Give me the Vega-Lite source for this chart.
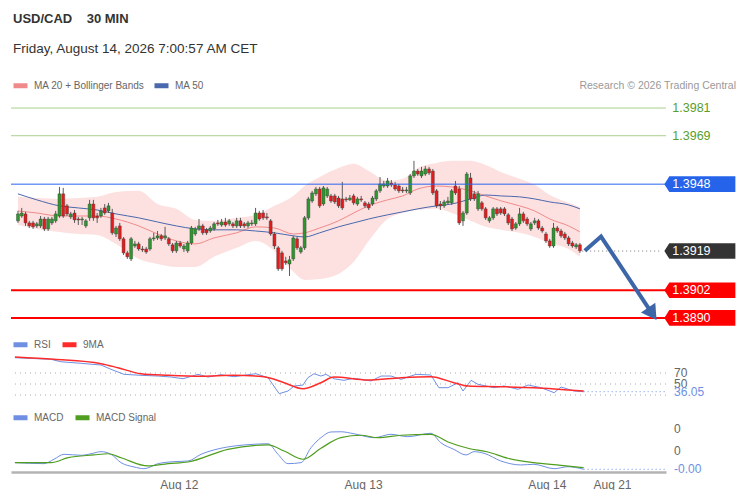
{
  "$schema": "https://vega.github.io/schema/vega-lite/v6.json",
  "background": "white",
  "padding": {"left": 10, "top": 12, "right": 0, "bottom": 0},
  "title": {
    "text": "USD/CAD\u00a0\u00a0\u00a0\u00a030 MIN",
    "subtitle": "Friday, August 14, 2026 7:00:57 AM CET",
    "anchor": "start",
    "dx": 3,
    "offset": 21,
    "font": "Liberation Sans",
    "fontSize": 13,
    "fontWeight": "bold",
    "color": "#333333",
    "subtitleFont": "Liberation Sans",
    "subtitleFontSize": 13.5,
    "subtitleColor": "#333333",
    "subtitlePadding": 16
  },
  "spacing": 0,
  "vconcat": [
    {
      "width": 655,
      "height": 259,
      "title": {
        "text": "Research © 2026 Trading Central",
        "anchor": "end",
        "frame": "group",
        "dx": 70,
        "offset": -15,
        "fontSize": 10.5,
        "fontWeight": "normal",
        "color": "#999999"
      },
      "layer": [
        {
          "data": {"values": [
            {"i":0,"ma20":1.39364,"ma50":1.39438,"bbU":1.39425,"bbL":1.39303},
            {"i":5,"ma20":1.39355,"ma50":1.39412,"bbU":1.39420,"bbL":1.39286},
            {"i":11,"ma20":1.39342,"ma50":1.39386,"bbU":1.39416,"bbL":1.39273},
            {"i":16,"ma20":1.39342,"ma50":1.39377,"bbU":1.39420,"bbL":1.39264},
            {"i":21,"ma20":1.39342,"ma50":1.39368,"bbU":1.39425,"bbL":1.39260},
            {"i":26,"ma20":1.39329,"ma50":1.39351,"bbU":1.39446,"bbL":1.39221},
            {"i":32,"ma20":1.39299,"ma50":1.39334,"bbU":1.39451,"bbL":1.39156},
            {"i":37,"ma20":1.39264,"ma50":1.39316,"bbU":1.39394,"bbL":1.39134},
            {"i":42,"ma20":1.39234,"ma50":1.39299,"bbU":1.39373,"bbL":1.39121},
            {"i":47,"ma20":1.39221,"ma50":1.39286,"bbU":1.39325,"bbL":1.39121},
            {"i":52,"ma20":1.39247,"ma50":1.39282,"bbU":1.39321,"bbL":1.39165},
            {"i":58,"ma20":1.39269,"ma50":1.39282,"bbU":1.39334,"bbL":1.39204},
            {"i":63,"ma20":1.39295,"ma50":1.39277,"bbU":1.39347,"bbL":1.39234},
            {"i":68,"ma20":1.39290,"ma50":1.39269,"bbU":1.39386,"bbL":1.39191},
            {"i":73,"ma20":1.39264,"ma50":1.39256,"bbU":1.39429,"bbL":1.39100},
            {"i":76,"ma20":1.39269,"ma50":1.39251,"bbU":1.39472,"bbL":1.39065},
            {"i":80,"ma20":1.39290,"ma50":1.39269,"bbU":1.39511,"bbL":1.39069},
            {"i":85,"ma20":1.39321,"ma50":1.39295,"bbU":1.39550,"bbL":1.39091},
            {"i":89,"ma20":1.39355,"ma50":1.39312,"bbU":1.39568,"bbL":1.39143},
            {"i":93,"ma20":1.39386,"ma50":1.39329,"bbU":1.39537,"bbL":1.39234},
            {"i":98,"ma20":1.39412,"ma50":1.39347,"bbU":1.39494,"bbL":1.39329},
            {"i":102,"ma20":1.39429,"ma50":1.39360,"bbU":1.39503,"bbL":1.39355},
            {"i":106,"ma20":1.39459,"ma50":1.39373,"bbU":1.39550,"bbL":1.39368},
            {"i":111,"ma20":1.39472,"ma50":1.39386,"bbU":1.39572,"bbL":1.39373},
            {"i":115,"ma20":1.39468,"ma50":1.39394,"bbU":1.39581,"bbL":1.39355},
            {"i":120,"ma20":1.39451,"ma50":1.39416,"bbU":1.39581,"bbL":1.39321},
            {"i":124,"ma20":1.39429,"ma50":1.39433,"bbU":1.39563,"bbL":1.39295},
            {"i":128,"ma20":1.39408,"ma50":1.39429,"bbU":1.39533,"bbL":1.39282},
            {"i":133,"ma20":1.39386,"ma50":1.39425,"bbU":1.39503,"bbL":1.39269},
            {"i":137,"ma20":1.39364,"ma50":1.39416,"bbU":1.39477,"bbL":1.39251},
            {"i":141,"ma20":1.39329,"ma50":1.39403,"bbU":1.39433,"bbL":1.39225},
            {"i":146,"ma20":1.39299,"ma50":1.39390,"bbU":1.39399,"bbL":1.39199},
            {"i":149,"ma20":1.39273,"ma50":1.39373,"bbU":1.39381,"bbL":1.39165}
          ]},
          "layer": [
            {
              "mark": {"type": "area", "color": "#fde1e1", "interpolate": "monotone"},
              "encoding": {
                "x": {"field": "i", "type": "quantitative", "scale": {"domain": [-0.52, 170.5], "nice": false, "zero": false}, "axis": null},
                "y": {"field": "bbU", "type": "quantitative", "scale": {"domain": [1.38826, 1.39949], "nice": false, "zero": false}, "axis": null},
                "y2": {"field": "bbL"}
              }
            },
            {
              "mark": {"type": "line", "strokeWidth": 1, "interpolate": "monotone"},
              "encoding": {
                "x": {"field": "i", "type": "quantitative"},
                "y": {"field": "ma20", "type": "quantitative"},
                "color": {
                  "datum": "MA 20 + Bollinger Bands",
                  "scale": {"domain": ["MA 20 + Bollinger Bands", "MA 50"], "range": ["#f08a8a", "#4a68ad"]},
                  "legend": {"title": null, "orient": "none", "legendX": 0, "legendY": 0, "direction": "horizontal", "columnPadding": -1}
                }
              }
            },
            {
              "mark": {"type": "line", "strokeWidth": 1, "interpolate": "monotone"},
              "encoding": {
                "x": {"field": "i", "type": "quantitative"},
                "y": {"field": "ma50", "type": "quantitative"},
                "color": {"datum": "MA 50"}
              }
            }
          ]
        },
        {
          "data": {"values": [
            {"i":0,"o":1.39321,"h":1.39364,"l":1.39312,"c":1.39351},
            {"i":1,"o":1.39342,"h":1.39377,"l":1.39334,"c":1.39355},
            {"i":2,"o":1.39351,"h":1.39360,"l":1.39299,"c":1.39312},
            {"i":3,"o":1.39312,"h":1.39321,"l":1.39290,"c":1.39299},
            {"i":4,"o":1.39312,"h":1.39321,"l":1.39286,"c":1.39295},
            {"i":5,"o":1.39299,"h":1.39316,"l":1.39290,"c":1.39308},
            {"i":6,"o":1.39299,"h":1.39342,"l":1.39290,"c":1.39329},
            {"i":7,"o":1.39329,"h":1.39338,"l":1.39277,"c":1.39286},
            {"i":8,"o":1.39286,"h":1.39338,"l":1.39277,"c":1.39329},
            {"i":9,"o":1.39312,"h":1.39338,"l":1.39303,"c":1.39329},
            {"i":10,"o":1.39321,"h":1.39364,"l":1.39312,"c":1.39351},
            {"i":11,"o":1.39342,"h":1.39468,"l":1.39334,"c":1.39438},
            {"i":12,"o":1.39438,"h":1.39464,"l":1.39334,"c":1.39342},
            {"i":13,"o":1.39386,"h":1.39394,"l":1.39342,"c":1.39351},
            {"i":14,"o":1.39338,"h":1.39360,"l":1.39329,"c":1.39351},
            {"i":15,"o":1.39355,"h":1.39368,"l":1.39312,"c":1.39325},
            {"i":16,"o":1.39329,"h":1.39338,"l":1.39303,"c":1.39325},
            {"i":17,"o":1.39325,"h":1.39338,"l":1.39303,"c":1.39329},
            {"i":18,"o":1.39299,"h":1.39329,"l":1.39290,"c":1.39321},
            {"i":19,"o":1.39334,"h":1.39412,"l":1.39321,"c":1.39394},
            {"i":20,"o":1.39394,"h":1.39412,"l":1.39321,"c":1.39334},
            {"i":21,"o":1.39342,"h":1.39355,"l":1.39312,"c":1.39334},
            {"i":22,"o":1.39342,"h":1.39377,"l":1.39334,"c":1.39364},
            {"i":23,"o":1.39377,"h":1.39394,"l":1.39347,"c":1.39355},
            {"i":24,"o":1.39364,"h":1.39399,"l":1.39355,"c":1.39386},
            {"i":25,"o":1.39355,"h":1.39373,"l":1.39260,"c":1.39269},
            {"i":26,"o":1.39264,"h":1.39299,"l":1.39251,"c":1.39290},
            {"i":27,"o":1.39299,"h":1.39312,"l":1.39234,"c":1.39243},
            {"i":28,"o":1.39243,"h":1.39251,"l":1.39173,"c":1.39182},
            {"i":29,"o":1.39182,"h":1.39191,"l":1.39156,"c":1.39165},
            {"i":30,"o":1.39156,"h":1.39251,"l":1.39147,"c":1.39243},
            {"i":31,"o":1.39212,"h":1.39234,"l":1.39204,"c":1.39221},
            {"i":32,"o":1.39221,"h":1.39230,"l":1.39191,"c":1.39199},
            {"i":33,"o":1.39199,"h":1.39212,"l":1.39186,"c":1.39195},
            {"i":34,"o":1.39199,"h":1.39208,"l":1.39178,"c":1.39186},
            {"i":35,"o":1.39199,"h":1.39251,"l":1.39191,"c":1.39243},
            {"i":36,"o":1.39243,"h":1.39269,"l":1.39234,"c":1.39247},
            {"i":37,"o":1.39247,"h":1.39277,"l":1.39238,"c":1.39256},
            {"i":38,"o":1.39256,"h":1.39264,"l":1.39234,"c":1.39243},
            {"i":39,"o":1.39247,"h":1.39295,"l":1.39238,"c":1.39256},
            {"i":40,"o":1.39243,"h":1.39251,"l":1.39212,"c":1.39221},
            {"i":41,"o":1.39217,"h":1.39225,"l":1.39182,"c":1.39191},
            {"i":42,"o":1.39191,"h":1.39234,"l":1.39182,"c":1.39225},
            {"i":43,"o":1.39225,"h":1.39234,"l":1.39204,"c":1.39212},
            {"i":44,"o":1.39199,"h":1.39221,"l":1.39186,"c":1.39212},
            {"i":45,"o":1.39191,"h":1.39234,"l":1.39182,"c":1.39225},
            {"i":46,"o":1.39225,"h":1.39299,"l":1.39217,"c":1.39290},
            {"i":47,"o":1.39264,"h":1.39295,"l":1.39256,"c":1.39286},
            {"i":48,"o":1.39286,"h":1.39329,"l":1.39277,"c":1.39299},
            {"i":49,"o":1.39299,"h":1.39308,"l":1.39260,"c":1.39269},
            {"i":50,"o":1.39282,"h":1.39290,"l":1.39260,"c":1.39269},
            {"i":51,"o":1.39277,"h":1.39299,"l":1.39269,"c":1.39290},
            {"i":52,"o":1.39286,"h":1.39316,"l":1.39277,"c":1.39308},
            {"i":53,"o":1.39312,"h":1.39325,"l":1.39299,"c":1.39308},
            {"i":54,"o":1.39303,"h":1.39329,"l":1.39295,"c":1.39316},
            {"i":55,"o":1.39316,"h":1.39334,"l":1.39295,"c":1.39303},
            {"i":56,"o":1.39308,"h":1.39329,"l":1.39299,"c":1.39321},
            {"i":57,"o":1.39308,"h":1.39316,"l":1.39290,"c":1.39299},
            {"i":58,"o":1.39299,"h":1.39334,"l":1.39290,"c":1.39321},
            {"i":59,"o":1.39321,"h":1.39334,"l":1.39290,"c":1.39299},
            {"i":60,"o":1.39308,"h":1.39316,"l":1.39290,"c":1.39299},
            {"i":61,"o":1.39299,"h":1.39321,"l":1.39290,"c":1.39312},
            {"i":62,"o":1.39308,"h":1.39325,"l":1.39299,"c":1.39312},
            {"i":63,"o":1.39308,"h":1.39377,"l":1.39299,"c":1.39355},
            {"i":64,"o":1.39355,"h":1.39364,"l":1.39321,"c":1.39329},
            {"i":65,"o":1.39355,"h":1.39368,"l":1.39325,"c":1.39334},
            {"i":66,"o":1.39338,"h":1.39355,"l":1.39325,"c":1.39334},
            {"i":67,"o":1.39321,"h":1.39329,"l":1.39256,"c":1.39264},
            {"i":68,"o":1.39264,"h":1.39273,"l":1.39199,"c":1.39212},
            {"i":69,"o":1.39204,"h":1.39212,"l":1.39104,"c":1.39113},
            {"i":70,"o":1.39182,"h":1.39191,"l":1.39104,"c":1.39113},
            {"i":71,"o":1.39147,"h":1.39165,"l":1.39130,"c":1.39139},
            {"i":72,"o":1.39134,"h":1.39169,"l":1.39082,"c":1.39152},
            {"i":73,"o":1.39156,"h":1.39256,"l":1.39147,"c":1.39247},
            {"i":74,"o":1.39243,"h":1.39251,"l":1.39195,"c":1.39204},
            {"i":75,"o":1.39186,"h":1.39212,"l":1.39178,"c":1.39204},
            {"i":76,"o":1.39204,"h":1.39342,"l":1.39195,"c":1.39334},
            {"i":77,"o":1.39334,"h":1.39425,"l":1.39325,"c":1.39416},
            {"i":78,"o":1.39407,"h":1.39451,"l":1.39399,"c":1.39442},
            {"i":79,"o":1.39438,"h":1.39468,"l":1.39429,"c":1.39459},
            {"i":80,"o":1.39459,"h":1.39468,"l":1.39377,"c":1.39386},
            {"i":81,"o":1.39394,"h":1.39472,"l":1.39386,"c":1.39464},
            {"i":82,"o":1.39429,"h":1.39468,"l":1.39420,"c":1.39459},
            {"i":83,"o":1.39429,"h":1.39438,"l":1.39399,"c":1.39407},
            {"i":84,"o":1.39429,"h":1.39438,"l":1.39394,"c":1.39403},
            {"i":85,"o":1.39420,"h":1.39429,"l":1.39377,"c":1.39386},
            {"i":86,"o":1.39416,"h":1.39490,"l":1.39368,"c":1.39377},
            {"i":87,"o":1.39416,"h":1.39425,"l":1.39403,"c":1.39412},
            {"i":88,"o":1.39412,"h":1.39433,"l":1.39407,"c":1.39420},
            {"i":89,"o":1.39429,"h":1.39438,"l":1.39390,"c":1.39399},
            {"i":90,"o":1.39394,"h":1.39425,"l":1.39386,"c":1.39416},
            {"i":91,"o":1.39416,"h":1.39429,"l":1.39403,"c":1.39412},
            {"i":92,"o":1.39399,"h":1.39407,"l":1.39377,"c":1.39386},
            {"i":93,"o":1.39394,"h":1.39403,"l":1.39368,"c":1.39377},
            {"i":94,"o":1.39394,"h":1.39429,"l":1.39386,"c":1.39420},
            {"i":95,"o":1.39416,"h":1.39459,"l":1.39407,"c":1.39451},
            {"i":96,"o":1.39451,"h":1.39511,"l":1.39442,"c":1.39481},
            {"i":97,"o":1.39472,"h":1.39494,"l":1.39464,"c":1.39481},
            {"i":98,"o":1.39472,"h":1.39507,"l":1.39464,"c":1.39494},
            {"i":99,"o":1.39485,"h":1.39498,"l":1.39468,"c":1.39477},
            {"i":100,"o":1.39477,"h":1.39490,"l":1.39451,"c":1.39459},
            {"i":101,"o":1.39472,"h":1.39481,"l":1.39442,"c":1.39451},
            {"i":102,"o":1.39455,"h":1.39468,"l":1.39442,"c":1.39451},
            {"i":103,"o":1.39451,"h":1.39468,"l":1.39442,"c":1.39455},
            {"i":104,"o":1.39442,"h":1.39524,"l":1.39433,"c":1.39516},
            {"i":105,"o":1.39516,"h":1.39581,"l":1.39507,"c":1.39537},
            {"i":106,"o":1.39537,"h":1.39546,"l":1.39516,"c":1.39524},
            {"i":107,"o":1.39516,"h":1.39555,"l":1.39507,"c":1.39537},
            {"i":108,"o":1.39524,"h":1.39559,"l":1.39516,"c":1.39546},
            {"i":109,"o":1.39546,"h":1.39555,"l":1.39520,"c":1.39529},
            {"i":110,"o":1.39537,"h":1.39546,"l":1.39433,"c":1.39442},
            {"i":111,"o":1.39451,"h":1.39459,"l":1.39377,"c":1.39386},
            {"i":112,"o":1.39394,"h":1.39407,"l":1.39368,"c":1.39386},
            {"i":113,"o":1.39386,"h":1.39412,"l":1.39377,"c":1.39403},
            {"i":114,"o":1.39399,"h":1.39425,"l":1.39390,"c":1.39407},
            {"i":115,"o":1.39399,"h":1.39459,"l":1.39390,"c":1.39451},
            {"i":116,"o":1.39472,"h":1.39494,"l":1.39433,"c":1.39442},
            {"i":117,"o":1.39459,"h":1.39472,"l":1.39303,"c":1.39312},
            {"i":118,"o":1.39321,"h":1.39364,"l":1.39299,"c":1.39355},
            {"i":119,"o":1.39355,"h":1.39533,"l":1.39347,"c":1.39524},
            {"i":120,"o":1.39507,"h":1.39529,"l":1.39407,"c":1.39416},
            {"i":121,"o":1.39438,"h":1.39451,"l":1.39407,"c":1.39416},
            {"i":122,"o":1.39373,"h":1.39451,"l":1.39364,"c":1.39438},
            {"i":123,"o":1.39399,"h":1.39407,"l":1.39364,"c":1.39373},
            {"i":124,"o":1.39373,"h":1.39381,"l":1.39325,"c":1.39334},
            {"i":125,"o":1.39321,"h":1.39342,"l":1.39312,"c":1.39334},
            {"i":126,"o":1.39334,"h":1.39381,"l":1.39325,"c":1.39373},
            {"i":127,"o":1.39373,"h":1.39381,"l":1.39342,"c":1.39351},
            {"i":128,"o":1.39373,"h":1.39381,"l":1.39347,"c":1.39355},
            {"i":129,"o":1.39373,"h":1.39381,"l":1.39342,"c":1.39351},
            {"i":130,"o":1.39347,"h":1.39355,"l":1.39303,"c":1.39312},
            {"i":131,"o":1.39329,"h":1.39338,"l":1.39277,"c":1.39286},
            {"i":132,"o":1.39290,"h":1.39316,"l":1.39282,"c":1.39308},
            {"i":133,"o":1.39308,"h":1.39377,"l":1.39299,"c":1.39351},
            {"i":134,"o":1.39351,"h":1.39360,"l":1.39312,"c":1.39321},
            {"i":135,"o":1.39329,"h":1.39338,"l":1.39299,"c":1.39308},
            {"i":136,"o":1.39286,"h":1.39316,"l":1.39277,"c":1.39308},
            {"i":137,"o":1.39312,"h":1.39334,"l":1.39303,"c":1.39321},
            {"i":138,"o":1.39321,"h":1.39329,"l":1.39282,"c":1.39290},
            {"i":139,"o":1.39290,"h":1.39299,"l":1.39269,"c":1.39277},
            {"i":140,"o":1.39264,"h":1.39273,"l":1.39225,"c":1.39234},
            {"i":141,"o":1.39234,"h":1.39243,"l":1.39204,"c":1.39212},
            {"i":142,"o":1.39212,"h":1.39312,"l":1.39204,"c":1.39290},
            {"i":143,"o":1.39290,"h":1.39299,"l":1.39269,"c":1.39277},
            {"i":144,"o":1.39277,"h":1.39286,"l":1.39247,"c":1.39256},
            {"i":145,"o":1.39264,"h":1.39273,"l":1.39238,"c":1.39247},
            {"i":146,"o":1.39247,"h":1.39256,"l":1.39212,"c":1.39221},
            {"i":147,"o":1.39225,"h":1.39234,"l":1.39204,"c":1.39212},
            {"i":148,"o":1.39208,"h":1.39225,"l":1.39199,"c":1.39217},
            {"i":149,"o":1.39217,"h":1.39225,"l":1.39182,"c":1.39191}
          ]},
          "layer": [
            {
              "mark": {"type": "rule", "color": "#5a5a5a", "strokeWidth": 1},
              "encoding": {
                "x": {"field": "i", "type": "quantitative"},
                "y": {"field": "l", "type": "quantitative"},
                "y2": {"field": "h"}
              }
            },
            {
              "mark": {"type": "bar", "width": 3, "stroke": "#3a3a3a", "strokeWidth": 0.4},
              "encoding": {
                "x": {"field": "i", "type": "quantitative"},
                "y": {"field": "o", "type": "quantitative"},
                "y2": {"field": "c"},
                "fill": {"condition": {"test": "datum.c >= datum.o", "value": "#2e962e"}, "value": "#e31d1d"}
              }
            }
          ]
        },
        {
          "data": {"values": [
            {"level":1.3981,"kind":"resistance"},
            {"level":1.3969,"kind":"resistance"},
            {"level":1.3948,"kind":"pivot"},
            {"level":1.3919,"kind":"last"},
            {"level":1.3902,"kind":"support"},
            {"level":1.3890,"kind":"support"}
          ]},
          "layer": [
            {
              "transform": [{"filter": "datum.kind != 'last'"}],
              "mark": {"type": "rule"},
              "encoding": {
                "y": {"field": "level", "type": "quantitative"},
                "stroke": {"field": "kind", "type": "nominal", "scale": {"domain": ["resistance", "pivot", "last", "support"], "range": ["#a9d08e", "#2b63f0", "#333333", "#ff0000"]}, "legend": null},
                "strokeWidth": {"condition": {"test": "datum.kind == 'support'", "value": 2}, "value": 1}
              }
            },
            {
              "transform": [{"filter": "datum.kind == 'last'"}],
              "mark": {"type": "rule", "color": "#777777", "strokeDash": [1, 3]},
              "encoding": {
                "x": {"datum": 149.6},
                "x2": {"datum": 170.5},
                "y": {"field": "level", "type": "quantitative"}
              }
            },
            {
              "transform": [{"filter": "datum.kind != 'resistance'"}],
              "mark": {"type": "point", "shape": "M-1,0L-0.86,-0.22H1V0.22H-0.86Z", "filled": true, "size": 5041, "opacity": 1, "strokeWidth": 0},
              "encoding": {
                "x": {"datum": 180.8},
                "y": {"field": "level", "type": "quantitative"},
                "fill": {"field": "kind", "type": "nominal", "scale": {"domain": ["pivot", "last", "support"], "range": ["#2563eb", "#333333", "#ff0000"]}, "legend": null}
              }
            },
            {
              "mark": {"type": "text", "align": "left", "baseline": "middle", "fontSize": 12.5},
              "encoding": {
                "x": {"datum": 173.5},
                "y": {"field": "level", "type": "quantitative"},
                "text": {"field": "level", "type": "quantitative", "format": ".4f"},
                "color": {"condition": {"test": "datum.kind == 'resistance'", "value": "#5a9e2a"}, "value": "#ffffff"}
              }
            }
          ]
        },
        {
          "data": {"values": [
            {"i":150.3,"p":1.39191},
            {"i":154.6,"p":1.39253},
            {"i":168.2,"p":1.38918}
          ]},
          "layer": [
            {
              "mark": {"type": "line", "color": "#3d66a8", "strokeWidth": 4},
              "encoding": {
                "x": {"field": "i", "type": "quantitative"},
                "y": {"field": "p", "type": "quantitative"}
              }
            },
            {
              "transform": [{"filter": "datum.i > 160"}],
              "mark": {"type": "point", "shape": "triangle-down", "filled": true, "size": 300, "angle": -34, "color": "#3d66a8", "opacity": 1},
              "encoding": {
                "x": {"field": "i", "type": "quantitative"},
                "y": {"field": "p", "type": "quantitative"}
              }
            }
          ]
        }
      ]
    },
    {
      "width": 655,
      "height": 73,
      "layer": [
        {
          "data": {"values": [{"level":70},{"level":50},{"level":30}]},
          "layer": [
            {
              "mark": {"type": "rule", "color": "#aaaaaa", "strokeDash": [1, 4]},
              "encoding": {"y": {"field": "level", "type": "quantitative"}}
            },
            {
              "transform": [{"filter": "datum.level > 40"}],
              "mark": {"type": "text", "align": "left", "baseline": "middle", "fontSize": 12, "color": "#666666"},
              "encoding": {
                "x": {"datum": 172.6},
                "y": {"field": "level", "type": "quantitative"},
                "text": {"field": "level", "type": "quantitative", "format": ".0f"}
              }
            }
          ]
        },
        {
          "data": {"values": [
            {"i":0.5,"rsi":97.8},{"i":9.9,"rsi":94.9},{"i":12.5,"rsi":90.5},{"i":17.8,"rsi":87.6},
            {"i":23,"rsi":84.5},{"i":25.6,"rsi":76.7},{"i":29,"rsi":67.6},{"i":33.4,"rsi":65.8},
            {"i":37.9,"rsi":64.5},{"i":41.3,"rsi":62.7},{"i":44.4,"rsi":59.6},{"i":48.3,"rsi":67.6},
            {"i":50.9,"rsi":62.7},{"i":54.3,"rsi":66.9},{"i":57.7,"rsi":63.3},{"i":60.3,"rsi":65.8},
            {"i":63.4,"rsi":68.7},{"i":66.6,"rsi":61.5},{"i":69.5,"rsi":32.4},{"i":71.8,"rsi":37.3},
            {"i":73.4,"rsi":46.4},{"i":75.7,"rsi":48},{"i":77,"rsi":61.5},{"i":78.6,"rsi":68.7},
            {"i":80.4,"rsi":64.5},{"i":81.7,"rsi":67.6},{"i":83.8,"rsi":59.6},{"i":86.4,"rsi":56.7},
            {"i":89,"rsi":60.4},{"i":93.5,"rsi":55.5},{"i":96.1,"rsi":64.5},{"i":98.7,"rsi":64.5},
            {"i":101.3,"rsi":58.5},{"i":105.2,"rsi":67.6},{"i":109.1,"rsi":66.4},{"i":111.2,"rsi":43.3},
            {"i":113.6,"rsi":43.3},{"i":116.2,"rsi":52.4},{"i":117.5,"rsi":37.3},{"i":119.6,"rsi":56.7},
            {"i":121.4,"rsi":49.5},{"i":125.6,"rsi":43.3},{"i":128.2,"rsi":46.4},{"i":131.9,"rsi":40.4},
            {"i":134.5,"rsi":48.2},{"i":137.9,"rsi":43.3},{"i":141.3,"rsi":34.2},{"i":143.1,"rsi":44.5},
            {"i":146.5,"rsi":37.3},{"i":149,"rsi":36.05}
          ]},
          "layer": [
            {
              "mark": {"type": "line", "strokeWidth": 1},
              "encoding": {
                "x": {"field": "i", "type": "quantitative", "scale": {"domain": [-0.52, 170.5], "nice": false, "zero": false}, "axis": null},
                "y": {"field": "rsi", "type": "quantitative", "scale": {"domain": [6.4, 139.1], "nice": false, "zero": false}, "axis": null},
                "color": {
                  "datum": "RSI",
                  "scale": {"domain": ["RSI", "9MA"], "range": ["#6f8fe3", "#ff2b2b"]},
                  "legend": {"title": null, "orient": "none", "legendX": 0, "legendY": 0, "direction": "horizontal", "columnPadding": 1}
                }
              }
            },
            {
              "transform": [{"filter": "datum.i == 149"}],
              "mark": {"type": "rule", "color": "#6f8fe3", "strokeDash": [1, 3]},
              "encoding": {
                "x": {"field": "i", "type": "quantitative"},
                "x2": {"datum": 170.5},
                "y": {"field": "rsi", "type": "quantitative"}
              }
            },
            {
              "transform": [{"filter": "datum.i == 149"}],
              "mark": {"type": "text", "align": "left", "baseline": "middle", "fontSize": 12, "color": "#6f8fe3"},
              "encoding": {
                "x": {"datum": 172.6},
                "y": {"field": "rsi", "type": "quantitative"},
                "text": {"field": "rsi", "type": "quantitative", "format": ".2f"}
              }
            }
          ]
        },
        {
          "data": {"values": [
            {"i":0.5,"v":99.1},{"i":10.7,"v":94.9},{"i":23,"v":86.9},{"i":27.4,"v":79.6},
            {"i":33.4,"v":68.7},{"i":40.5,"v":65.8},{"i":49.1,"v":64},{"i":57.7,"v":65.8},
            {"i":65.5,"v":63.3},{"i":70.8,"v":52.4},{"i":75.7,"v":41.5},{"i":80.4,"v":52.4},
            {"i":83.8,"v":62.7},{"i":92.7,"v":57.3},{"i":101.3,"v":61.5},{"i":109.1,"v":63.3},
            {"i":115.1,"v":52.4},{"i":118.8,"v":46.4},{"i":127.4,"v":45.1},{"i":136,"v":43.3},
            {"i":149,"v":37.3}
          ]},
          "mark": {"type": "line", "strokeWidth": 1.5, "interpolate": "monotone"},
          "encoding": {
            "x": {"field": "i", "type": "quantitative"},
            "y": {"field": "v", "type": "quantitative"},
            "color": {"datum": "9MA"}
          }
        }
      ]
    },
    {
      "width": 655,
      "height": 64,
      "layer": [
        {
          "data": {"values": [
            {"i":0.5,"macd":-0.000006},{"i":8.1,"macd":-0.000015},{"i":10.7,"macd":0.000025},
            {"i":13.3,"macd":0.00007},{"i":17.8,"macd":0.000061},{"i":20.4,"macd":0.000075},
            {"i":23,"macd":0.000094},{"i":25.6,"macd":0.00007},{"i":28.2,"macd":-0.000006},
            {"i":31.6,"macd":-0.000045},{"i":34.2,"macd":-0.000061},{"i":37.9,"macd":-0.000015},
            {"i":42,"macd":0.000003},{"i":45.7,"macd":0.000009},{"i":49.1,"macd":0.00007},
            {"i":54.3,"macd":0.000125},{"i":57.7,"macd":0.000145},{"i":62.9,"macd":0.000161},
            {"i":66.6,"macd":0.000166},{"i":69.2,"macd":0.00007},{"i":71.8,"macd":-0.000015},
            {"i":75.2,"macd":-0.000006},{"i":77.8,"macd":0.00013},{"i":80.4,"macd":0.000221},
            {"i":83,"macd":0.000273},{"i":85.6,"macd":0.000275},{"i":89,"macd":0.000257},
            {"i":94.3,"macd":0.000221},{"i":98.7,"macd":0.000252},{"i":103.1,"macd":0.00023},
            {"i":109.1,"macd":0.000261},{"i":111.7,"macd":0.000175},{"i":115.1,"macd":0.000115},
            {"i":118.3,"macd":0.000064},{"i":120.4,"macd":0.000094},{"i":123,"macd":0.000079},
            {"i":127.4,"macd":0.000009},{"i":132.6,"macd":-0.000027},{"i":136,"macd":-0.000021},
            {"i":141.3,"macd":-0.000061},{"i":144.9,"macd":-0.000043},{"i":149,"macd":-0.000066}
          ]},
          "layer": [
            {
              "mark": {"type": "line", "strokeWidth": 1, "interpolate": "monotone"},
              "encoding": {
                "x": {
                  "field": "i",
                  "type": "quantitative",
                  "scale": {"domain": [-0.52, 170.5], "nice": false, "zero": false},
                  "axis": {
                    "values": [43.3, 91.4, 139.4, 156.4],
                    "labelExpr": "datum.value < 60 ? 'Aug 12' : datum.value < 110 ? 'Aug 13' : datum.value < 150 ? 'Aug 14' : 'Aug 21'",
                    "ticks": false,
                    "grid": false,
                    "title": null,
                    "domainColor": "#b3b3b3",
                    "domainWidth": 2.5,
                    "labelColor": "#666666",
                    "labelFontSize": 12,
                    "labelPadding": 7
                  }
                },
                "y": {"field": "macd", "type": "quantitative", "scale": {"domain": [-0.000091, 0.000491], "nice": false, "zero": false}, "axis": null},
                "color": {
                  "datum": "MACD",
                  "scale": {"domain": ["MACD", "MACD Signal"], "range": ["#6f8fe3", "#4f9e1f"]},
                  "legend": {"title": null, "orient": "none", "legendX": 0, "legendY": 0, "direction": "horizontal", "columnPadding": 1}
                }
              }
            },
            {
              "transform": [{"filter": "datum.i == 149"}],
              "mark": {"type": "rule", "color": "#6f8fe3", "strokeDash": [1, 3]},
              "encoding": {
                "x": {"field": "i", "type": "quantitative"},
                "x2": {"datum": 170.5},
                "y": {"field": "macd", "type": "quantitative"}
              }
            },
            {
              "transform": [{"filter": "datum.i == 149"}],
              "mark": {"type": "text", "align": "left", "baseline": "middle", "fontSize": 12, "color": "#6f8fe3"},
              "encoding": {
                "x": {"datum": 172.6},
                "y": {"field": "macd", "type": "quantitative"},
                "text": {"value": "-0.00"}
              }
            }
          ]
        },
        {
          "data": {"values": [
            {"i":0.5,"v":-0.000006},{"i":9.9,"v":-0.000006},{"i":14.4,"v":0.000039},
            {"i":21.1,"v":0.000064},{"i":24.8,"v":0.000075},{"i":28.2,"v":0.000039},
            {"i":35.2,"v":-0.000036},{"i":40.5,"v":-0.000015},{"i":45.7,"v":0},
            {"i":56.1,"v":0.000115},{"i":66.6,"v":0.000155},{"i":70.8,"v":0.0001},
            {"i":75.7,"v":0.000025},{"i":80.4,"v":0.000125},{"i":85.6,"v":0.000221},
            {"i":90.9,"v":0.000243},{"i":95.3,"v":0.000221},{"i":101.3,"v":0.000243},
            {"i":109.1,"v":0.000252},{"i":113.6,"v":0.000182},{"i":118.8,"v":0.000125},
            {"i":124,"v":0.000091},{"i":129.2,"v":0.000034},{"i":136,"v":-0.000006},
            {"i":143.1,"v":-0.00003},{"i":149,"v":-0.000052}
          ]},
          "mark": {"type": "line", "strokeWidth": 1.2, "interpolate": "monotone"},
          "encoding": {
            "x": {"field": "i", "type": "quantitative"},
            "y": {"field": "v", "type": "quantitative"},
            "color": {"datum": "MACD Signal"}
          }
        },
        {
          "data": {"values": [{"level":0.0003},{"level":0.0001}]},
          "mark": {"type": "text", "align": "left", "baseline": "middle", "fontSize": 12, "color": "#666666"},
          "encoding": {
            "x": {"datum": 172.6},
            "y": {"field": "level", "type": "quantitative"},
            "text": {"field": "level", "type": "quantitative", "format": ".0f"}
          }
        }
      ]
    }
  ],
  "resolve": {
    "scale": {"x": "independent", "y": "independent", "color": "independent"},
    "legend": {"color": "independent"}
  },
  "config": {
    "view": {"stroke": null},
    "font": "Liberation Sans",
    "axis": {"grid": false},
    "legend": {
      "symbolType": "stroke",
      "symbolStrokeWidth": 5,
      "symbolSize": 196,
      "labelFontSize": 10,
      "labelColor": "#666666",
      "labelOffset": 4,
      "columnPadding": 8,
      "padding": 0
    }
  }
}
